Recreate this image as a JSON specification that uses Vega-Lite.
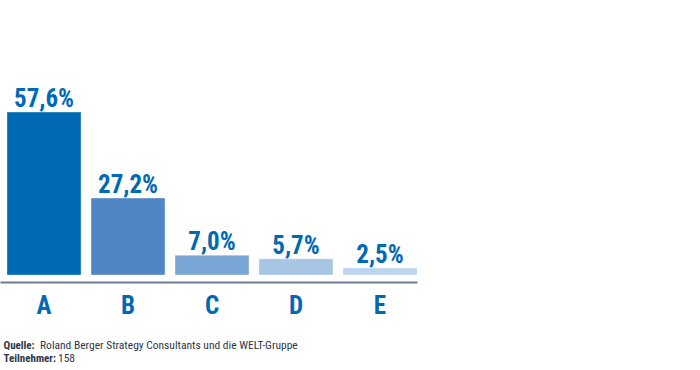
{
  "$schema": "https://vega.github.io/schema/vega-lite/v6.json",
  "autosize": {"type": "none"},
  "padding": {"left": 0, "top": 0, "right": 283, "bottom": 95},
  "width": 417,
  "height": 275,
  "background": "white",
  "data": {"values": [
    {"cat": "A", "share": 0.576},
    {"cat": "B", "share": 0.272},
    {"cat": "C", "share": 0.070},
    {"cat": "D", "share": 0.057},
    {"cat": "E", "share": 0.025}
  ]},
  "title": {
    "text": "158",
    "orient": "bottom",
    "anchor": "start",
    "frame": "group",
    "dx": 58,
    "dy": -6,
    "font": "Roboto Condensed, Liberation Sans Narrow, Arial Narrow, sans-serif",
    "fontSize": 11.5,
    "fontWeight": "normal",
    "color": "#2e3648",
    "baseline": "alphabetic"
  },
  "encoding": {
    "x": {
      "field": "cat", "type": "nominal", "sort": null,
      "scale": {"paddingInner": 0.119, "paddingOuter": 0.0417, "align": 1},
      "axis": {
        "title": ["Quelle:", "Teilnehmer:"],
        "titleFont": "Roboto Condensed, Liberation Sans Narrow, Arial Narrow, sans-serif",
        "titleFontSize": 11,
        "titleFontWeight": "bold",
        "titleColor": "#2e3648",
        "titleAlign": "left",
        "titleAnchor": "start",
        "titleBaseline": "alphabetic",
        "titleLineHeight": 13.5,
        "titleX": 3,
        "titleY": 66,
        "offset": 7,
        "domainColor": "#6f7c95",
        "domainWidth": 2,
        "ticks": false,
        "tickSize": 0,
        "labelAngle": 0,
        "labelPadding": 31,
        "labelBaseline": "alphabetic",
        "labelFont": "Roboto Condensed, Liberation Sans Narrow, Arial Narrow, sans-serif",
        "labelFontSize": 25,
        "labelFontWeight": "bold",
        "labelColor": "#0069b4"
      }
    },
    "y": {
      "field": "share", "type": "quantitative",
      "scale": {"domain": [0, 0.972], "nice": false, "zero": true},
      "axis": {
        "title": "Roland Berger Strategy Consultants und die WELT-Gruppe",
        "titleFont": "Roboto Condensed, Liberation Sans Narrow, Arial Narrow, sans-serif",
        "titleFontSize": 11.5,
        "titleFontWeight": "normal",
        "titleColor": "#2e3648",
        "titleAngle": 0,
        "titleAlign": "left",
        "titleAnchor": "start",
        "titleBaseline": "alphabetic",
        "titleX": 39.5,
        "titleY": 348,
        "domain": false,
        "ticks": false,
        "labels": false,
        "grid": false
      }
    }
  },
  "layer": [
    {
      "mark": {"type": "bar", "stroke": "white", "strokeOpacity": 0.35, "strokeWidth": 1},
      "encoding": {
        "color": {
          "field": "cat", "type": "nominal",
          "scale": {"domain": ["A", "B", "C", "D", "E"], "range": ["#0069b4", "#5086c4", "#7aa6d5", "#a8c6e4", "#bcd4ec"]},
          "legend": null
        }
      }
    },
    {
      "mark": {
        "type": "text", "align": "center", "baseline": "alphabetic", "dy": -5,
        "font": "Roboto Condensed, Liberation Sans Narrow, Arial Narrow, sans-serif",
        "fontSize": 25, "fontWeight": "bold", "color": "#0069b4"
      },
      "encoding": {
        "text": {"field": "share", "type": "quantitative", "format": ".1%"}
      }
    }
  ],
  "config": {
    "view": {"stroke": null},
    "locale": {"number": {"decimal": ",", "thousands": ".", "grouping": [3], "currency": ["", " €"]}}
  }
}
